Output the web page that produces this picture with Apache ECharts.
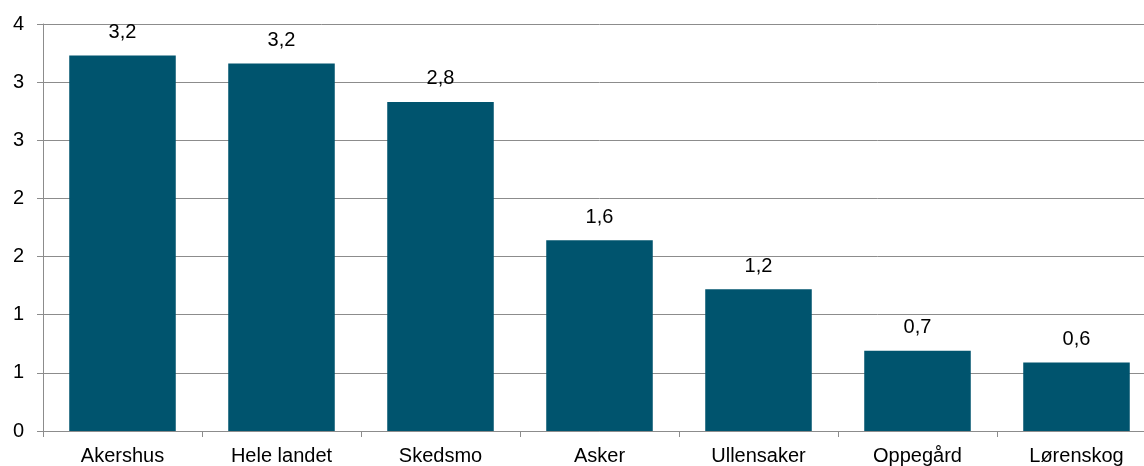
<!DOCTYPE html>
<html><head><meta charset="utf-8">
<script src="https://cdn.jsdelivr.net/npm/echarts@6/dist/echarts.min.js"></script>
<style>html,body{margin:0;padding:0;background:#fff;overflow:hidden;width:1144px;height:466px}#c{width:1156px;height:466px}</style>
</head><body><div id="c"></div>
<script>
const categories = ['Akershus','Hele landet','Skedsmo','Asker','Ullensaker','Oppegård','Lørenskog'];
const values = [3.23, 3.16, 2.83, 1.64, 1.22, 0.69, 0.59];
const yMin = 0, yMax = 3.5, yInterval = 0.5;

const chart = echarts.init(document.getElementById('c'));
chart.setOption({
  animation: false,
  textStyle: {fontFamily: 'Liberation Sans, Arial, sans-serif'},
  grid: {left: 43, top: 24, right: 0, height: 408, containLabel: false},
  xAxis: {
    type: 'category', data: categories,
    axisLine: {lineStyle: {color: '#8c8c8c', width: 1}},
    axisTick: {show: true, length: 6, lineStyle: {color: '#8c8c8c'}},
    axisLabel: {color: '#000', fontSize: 20, margin: 15, interval: 0}
  },
  yAxis: {
    type: 'value', min: yMin, max: yMax, interval: yInterval,
    axisLine: {show: true, lineStyle: {color: '#8c8c8c'}},
    axisTick: {show: true, length: 6, inside: false, lineStyle: {color: '#8c8c8c'}},
    splitLine: {lineStyle: {color: '#8c8c8c', width: 1}},
    axisLabel: {color: '#000', fontSize: 20, margin: 19, formatter: v => String(Math.round(v))}
  },
  series: [{
    type: 'bar', data: values, barCategoryGap: '33%',
    itemStyle: {color: '#00546E'},
    label: {show: true, position: 'top', distance: 13, color: '#000', fontSize: 20,
      formatter: p => p.value.toFixed(1).replace('.', ',')}
  }]
});
</script></body></html>
